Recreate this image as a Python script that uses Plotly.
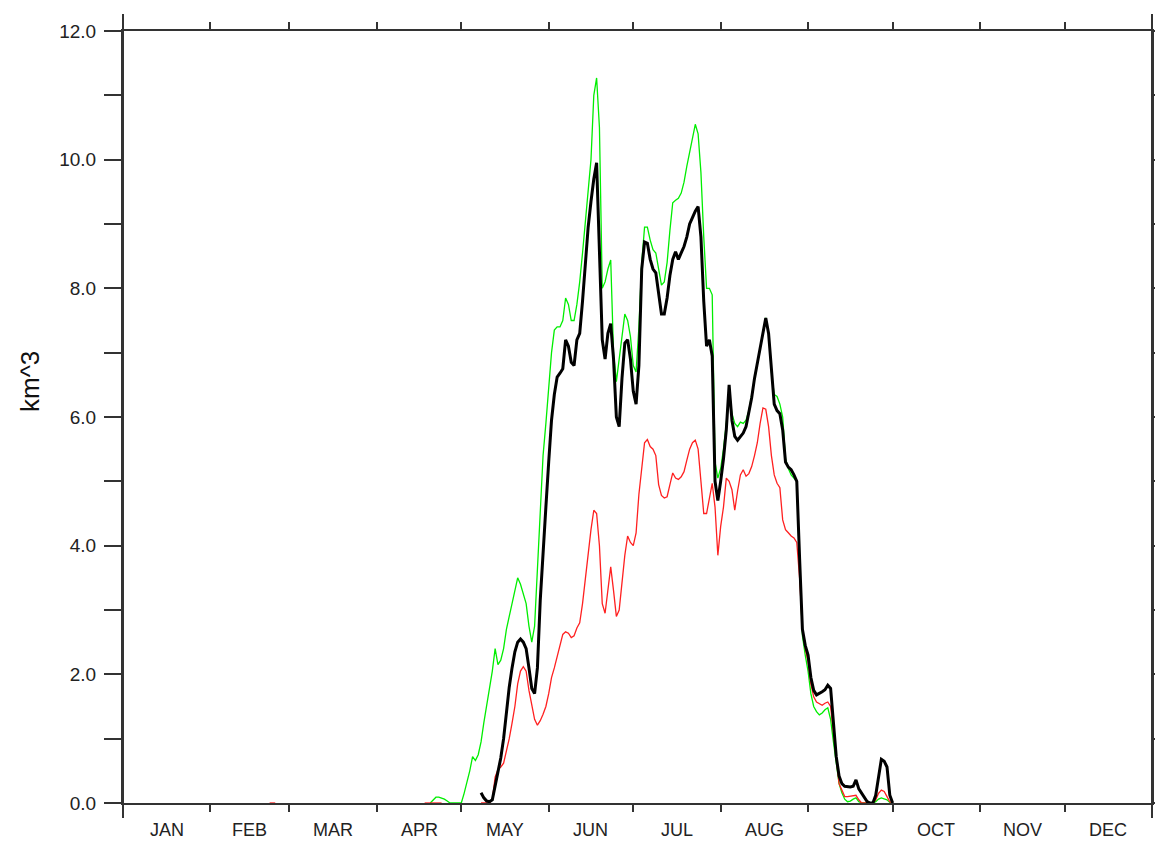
import plotly.graph_objects as go

# Day-of-year start for each month (plus the year end), and month labels
month_starts = [0, 31, 59, 90, 120, 151, 181, 212, 243, 273, 304, 334, 365]
month_labels = ["JAN", "FEB", "MAR", "APR", "MAY", "JUN",
                "JUL", "AUG", "SEP", "OCT", "NOV", "DEC"]

# Daily volumes (km^3); each series lists consecutive days from its start day
black_start = 127
black_vals = [
    0.16, 0.08, 0.03, 0.02, 0.05, 0.25, 0.45, 0.7, 1.0, 1.45,
    1.8, 2.1, 2.35, 2.5, 2.55, 2.5, 2.4, 2.1, 1.78, 1.7,
    2.1, 3.15, 3.8, 4.6, 5.3, 5.95, 6.35, 6.62, 6.68, 6.75,
    7.2, 7.1, 6.85, 6.8, 7.2, 7.3, 7.8, 8.4, 8.95, 9.35,
    9.7, 9.95, 8.6, 7.2, 6.9, 7.3, 7.45, 6.9, 6.0, 5.85,
    6.6, 7.15, 7.2, 6.9, 6.4, 6.2, 6.8, 8.3, 8.72, 8.7,
    8.45, 8.3, 8.24, 7.9, 7.6, 7.6, 7.85, 8.2, 8.45, 8.57,
    8.45, 8.55, 8.65, 8.8, 9.0, 9.1, 9.2, 9.27, 8.8, 7.8,
    7.1, 7.2, 6.95, 5.0, 4.7, 5.0, 5.35, 5.8, 6.5, 5.95,
    5.7, 5.64, 5.7, 5.75, 5.85, 6.05, 6.3, 6.6, 6.85, 7.1,
    7.35, 7.54, 7.3, 6.7, 6.2, 6.1, 6.05, 5.8, 5.3, 5.22,
    5.18, 5.1, 5.0, 3.8, 2.7, 2.45, 2.3, 1.95, 1.75, 1.68,
    1.7, 1.73, 1.76, 1.83, 1.78, 1.2, 0.72, 0.42, 0.3, 0.26,
    0.25, 0.25, 0.26, 0.36, 0.22, 0.15, 0.09, 0.02, 0.0, 0.0,
    0.12, 0.4, 0.68, 0.65, 0.56, 0.12, 0.0,
]

green_start = 109
green_vals = [
    0.0, 0.05, 0.09, 0.09, 0.08, 0.06, 0.03, 0.0, 0.0, 0.0,
    0.0, 0.0, 0.15, 0.31, 0.5, 0.72, 0.66, 0.75, 0.95, 1.25,
    1.5, 1.8, 2.05, 2.4, 2.15, 2.22, 2.4, 2.7, 2.9, 3.1,
    3.35, 3.5, 3.4, 3.25, 3.1, 2.75, 2.5, 2.75, 3.6, 4.45,
    5.4, 5.9, 6.4, 7.0, 7.35, 7.4, 7.4, 7.5, 7.85, 7.75,
    7.5, 7.5, 7.75, 8.1, 8.55, 9.0, 9.5, 10.0, 11.0, 11.27,
    10.5, 8.0, 8.1, 8.3, 8.44, 7.0, 6.55, 6.9, 7.25, 7.6,
    7.5, 7.25, 6.8, 6.7, 7.4, 8.4, 8.95, 8.95, 8.75, 8.6,
    8.55, 8.3, 8.05, 8.1, 8.4, 8.9, 9.33, 9.37, 9.4, 9.48,
    9.65, 9.9, 10.1, 10.3, 10.55, 10.4, 9.8, 8.8, 8.0, 8.0,
    7.9, 5.3, 5.05, 5.2, 5.5, 5.9, 6.43, 6.05, 5.9, 5.85,
    5.92, 5.9, 5.95, 6.1, 6.35, 6.6, 6.85, 7.1, 7.35, 7.54,
    7.3, 6.7, 6.35, 6.32, 6.2, 6.0, 5.35, 5.2, 5.1, 5.05,
    5.0, 3.7, 2.6, 2.3, 2.05, 1.7, 1.5, 1.42, 1.37, 1.4,
    1.45, 1.48, 1.3, 0.95, 0.6, 0.3, 0.16, 0.06, 0.02, 0.03,
    0.06, 0.08, 0.02, 0.0, 0.0, 0.0, 0.0, 0.0, 0.02, 0.06,
    0.08, 0.07, 0.05, 0.01, 0.0,
]

red_feb_start = 52
red_feb_vals = [0.0, 0.0, 0.0]
red_apr_start = 107
red_apr_vals = [0.0, 0.0, 0.0, 0.0, 0.0, 0.0, 0.0]
red_start = 127
red_vals = [
    0.0, 0.0, 0.0, 0.0, 0.05, 0.4, 0.52, 0.56, 0.62, 0.8,
    1.0, 1.24, 1.5, 1.85, 2.05, 2.12, 2.05, 1.75, 1.49, 1.3,
    1.21, 1.28, 1.38, 1.5, 1.7, 1.95, 2.1, 2.27, 2.45, 2.62,
    2.66, 2.64, 2.57, 2.6, 2.72, 2.8, 3.1, 3.5, 3.9, 4.25,
    4.55, 4.5, 4.0, 3.1, 2.95, 3.3, 3.67, 3.3, 2.9, 3.0,
    3.47, 3.85, 4.15, 4.05, 4.0, 4.2, 4.8, 5.2, 5.6, 5.65,
    5.54, 5.5, 5.4, 4.95, 4.78, 4.74, 4.76, 4.95, 5.13, 5.05,
    5.03, 5.07, 5.15, 5.33, 5.5, 5.6, 5.64, 5.5, 4.95, 4.5,
    4.5, 4.75, 4.97, 4.6, 3.85, 4.3, 4.6, 5.05, 5.0, 4.87,
    4.55, 4.85, 5.1, 5.18, 5.08, 5.12, 5.23, 5.4, 5.6, 5.9,
    6.14, 6.12, 5.85, 5.4, 5.1, 4.97, 4.9, 4.4, 4.25, 4.2,
    4.15, 4.12, 4.05, 3.5, 2.7, 2.4, 2.2, 1.85, 1.65, 1.57,
    1.55, 1.52, 1.55, 1.57, 1.5, 1.1, 0.65, 0.3, 0.2, 0.1,
    0.1, 0.11, 0.12, 0.12, 0.05, 0.0, 0.0, 0.0, 0.0, 0.0,
    0.05, 0.15, 0.2, 0.18, 0.1, 0.02, 0.0,
]


def days_from(start, vals):
    return list(range(start, start + len(vals)))


# Red is drawn as separate pieces joined by gaps
red_x, red_y = [], []
for s, v in [(red_feb_start, red_feb_vals), (red_apr_start, red_apr_vals), (red_start, red_vals)]:
    red_x += days_from(s, v) + [None]
    red_y += list(v) + [None]

AXIS_COLOR = "#333333"
FONT = "Liberation Sans, Arial, sans-serif"

fig = go.Figure()
fig.add_trace(go.Scatter(x=days_from(green_start, green_vals), y=green_vals, mode="lines",
                         line=dict(color="#00ee00", width=1.3), hoverinfo="skip"))
fig.add_trace(go.Scatter(x=red_x, y=red_y, mode="lines", connectgaps=False,
                         line=dict(color="#ff2020", width=1.3), hoverinfo="skip"))
fig.add_trace(go.Scatter(x=days_from(black_start, black_vals), y=black_vals, mode="lines",
                         line=dict(color="#000000", width=3), hoverinfo="skip"))

fig.update_layout(
    width=1155, height=841,
    margin=dict(l=123, r=3, t=31, b=38, autoexpand=False),
    paper_bgcolor="white", plot_bgcolor="white",
    showlegend=False,
    font=dict(family=FONT, color="#222222"),
    xaxis=dict(
        range=[0, 365], tickvals=month_starts, showticklabels=False,
        ticks="outside", ticklen=7, tickwidth=2, tickcolor=AXIS_COLOR,
        showline=True, linecolor=AXIS_COLOR, linewidth=2, mirror="ticks",
        showgrid=False, zeroline=False, layer="below traces", fixedrange=True,
        automargin=False,
    ),
    yaxis=dict(
        range=[0, 12], tickvals=[0, 2, 4, 6, 8, 10, 12], tickformat=".1f",
        ticks="outside", ticklen=17, tickwidth=2, tickcolor=AXIS_COLOR,
        tickfont=dict(size=19, color="#222222", family=FONT),
        ticklabelstandoff=4,
        minor=dict(tickvals=[1, 3, 5, 7, 9, 11], ticks="outside", ticklen=17,
                   tickwidth=2, tickcolor=AXIS_COLOR, showgrid=False),
        showline=True, linecolor=AXIS_COLOR, linewidth=2, mirror="ticks",
        showgrid=False, zeroline=False, layer="below traces", fixedrange=True,
        automargin=False,
    ),
)

# Month names centred between the month boundary ticks
for i, name in enumerate(month_labels):
    mid = (month_starts[i] + month_starts[i + 1]) / 2
    fig.add_annotation(x=mid, y=-0.035, xref="x", yref="paper", text=name,
                       showarrow=False, yanchor="middle", xanchor="center",
                       font=dict(size=18, color="#222222", family=FONT))

# Y-axis title
fig.add_annotation(x=-0.0904, y=0.5466, xref="paper", yref="paper", text="km^3",
                   showarrow=False, textangle=-90, xanchor="center", yanchor="middle",
                   font=dict(size=26, color="#111111", family=FONT))

# Frame sides run a little past the top and bottom of the plot area
for xp in (0, 1):
    fig.add_shape(type="line", xref="paper", yref="paper", x0=xp, x1=xp,
                  y0=-0.0194, y1=1.022, line=dict(color=AXIS_COLOR, width=2))

fig.write_html("out.html")
